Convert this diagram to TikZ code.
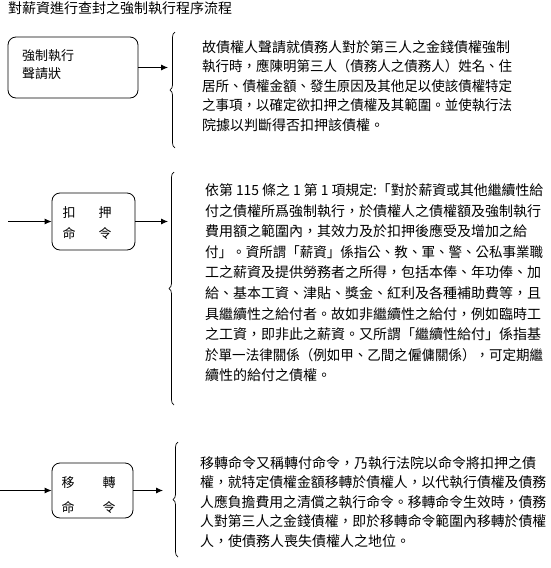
\documentclass[tikz,border=0pt]{standalone}
\usepackage{fontspec}
\setmainfont{Noto Sans CJK TC}
\usepackage{graphicx}
\usetikzlibrary{arrows.meta,decorations.pathreplacing}
\newsavebox\fitbox
\newcommand\fitline[2]{\sbox\fitbox{#2}\ifdim\wd\fitbox>#1\relax\resizebox{#1}{\height}{\usebox\fitbox}\else\usebox\fitbox\fi}
\begin{document}
\begin{tikzpicture}[x=1pt,y=-1pt,
  box/.style={draw, rounded corners=8pt, line width=0.8pt, inner sep=0},
  lbl/.style={font=\fontsize{13}{16}\selectfont, inner sep=0, anchor=base west},
  body/.style={font=\fontsize{14}{20}\selectfont, inner sep=0, anchor=base west},
  arr/.style={-{Latex[length=7pt,width=6pt]}, line width=0.8pt},
  brc/.style={decorate, decoration={brace, amplitude=5pt}, line width=0.7pt}]
\useasboundingbox (0,0) rectangle (550,568);

\node[body] (title) at (8,13.5) {對薪資進行查封之強制執行程序流程};

% boxes
\node[box, minimum width=130pt, minimum height=61pt] (b1) at (73,67.5) {};
\node[lbl] (b1a) at (22,60) {強制執行};
\node[lbl] (b1b) at (22,78) {聲請狀};

\node[box, minimum width=83pt, minimum height=57pt] (b2) at (93.5,221.5) {};
\node[lbl] (b2a) at (62.5,217) {扣};
\node[lbl] (b2b) at (98.5,217) {押};
\node[lbl] (b2c) at (62.5,238) {命};
\node[lbl] (b2d) at (98.5,238) {令};

\node[box, minimum width=81pt, minimum height=55pt] (b3) at (92.5,490.5) {};
\node[lbl] (b3a) at (61.5,487) {移};
\node[lbl] (b3b) at (102.5,487) {轉};
\node[lbl] (b3c) at (61.5,512) {命};
\node[lbl] (b3d) at (102.5,512) {令};

% arrows
\coordinate (t1) at (168,67.5);
\draw[arr] (b1.east) -- (t1);
\coordinate (s2) at (8,221.5);
\coordinate (t2) at (168,221.5);
\draw[arr] (s2) -- (b2.west);
\draw[arr] (b2.east) -- (t2);
\coordinate (s3) at (0,490.5);
\coordinate (t3) at (163,490.5);
\draw[arr] (s3) -- (b3.west);
\draw[arr] (b3.east) -- (t3);

% braces
\draw[brc] (175,148) -- (175,32);
\draw[brc] (174,405) -- (174,172);
\draw[brc] (178,557) -- (178,442);

% text 1
\foreach \l [count=\i] in {
故債權人聲請就債務人對於第三人之金錢債權強制,
執行時，應陳明第三人（債務人之債務人）姓名、住,
居所、債權金額、發生原因及其他足以使該債權特定,
之事項，以確定欲扣押之債權及其範圍。並使執行法,
院據以判斷得否扣押該債權。}
  \node[body, name=p1-\i] at (202,{52+19.5*(\i-1)}) {\fitline{310pt}{\l}};

% text 2
\foreach \l [count=\i] in {
依第 115 條之 1 第 1 項規定:「對於薪資或其他繼續性給,
付之債權所爲強制執行，於債權人之債權額及強制執行,
費用額之範圍內，其效力及於扣押後應受及增加之給,
付」。資所謂「薪資」係指公、教、軍、警、公私事業職,
工之薪資及提供勞務者之所得，包括本俸、年功俸、加,
給、基本工資、津貼、獎金、紅利及各種補助費等，且,
具繼續性之給付者。故如非繼續性之給付，例如臨時工,
之工資，即非此之薪資。又所謂「繼續性給付」係指基,
於單一法律關係（例如甲、乙間之僱傭關係），可定期繼,
續性的給付之債權。}
  \node[body, name=p2-\i] at (205,{195.5+20.6*(\i-1)}) {\fitline{338pt}{\l}};

% text 3
\foreach \l [count=\i] in {
移轉命令又稱轉付命令，乃執行法院以命令將扣押之債,
權，就特定債權金額移轉於債權人，以代執行債權及債務,
人應負擔費用之清償之執行命令。移轉命令生效時，債務,
人對第三人之金錢債權，即於移轉命令範圍內移轉於債權,
人，使債務人喪失債權人之地位。}
  \node[body, name=p3-\i] at (200,{468+19.6*(\i-1)}) {\fitline{346pt}{\l}};
\end{tikzpicture}
\end{document}
